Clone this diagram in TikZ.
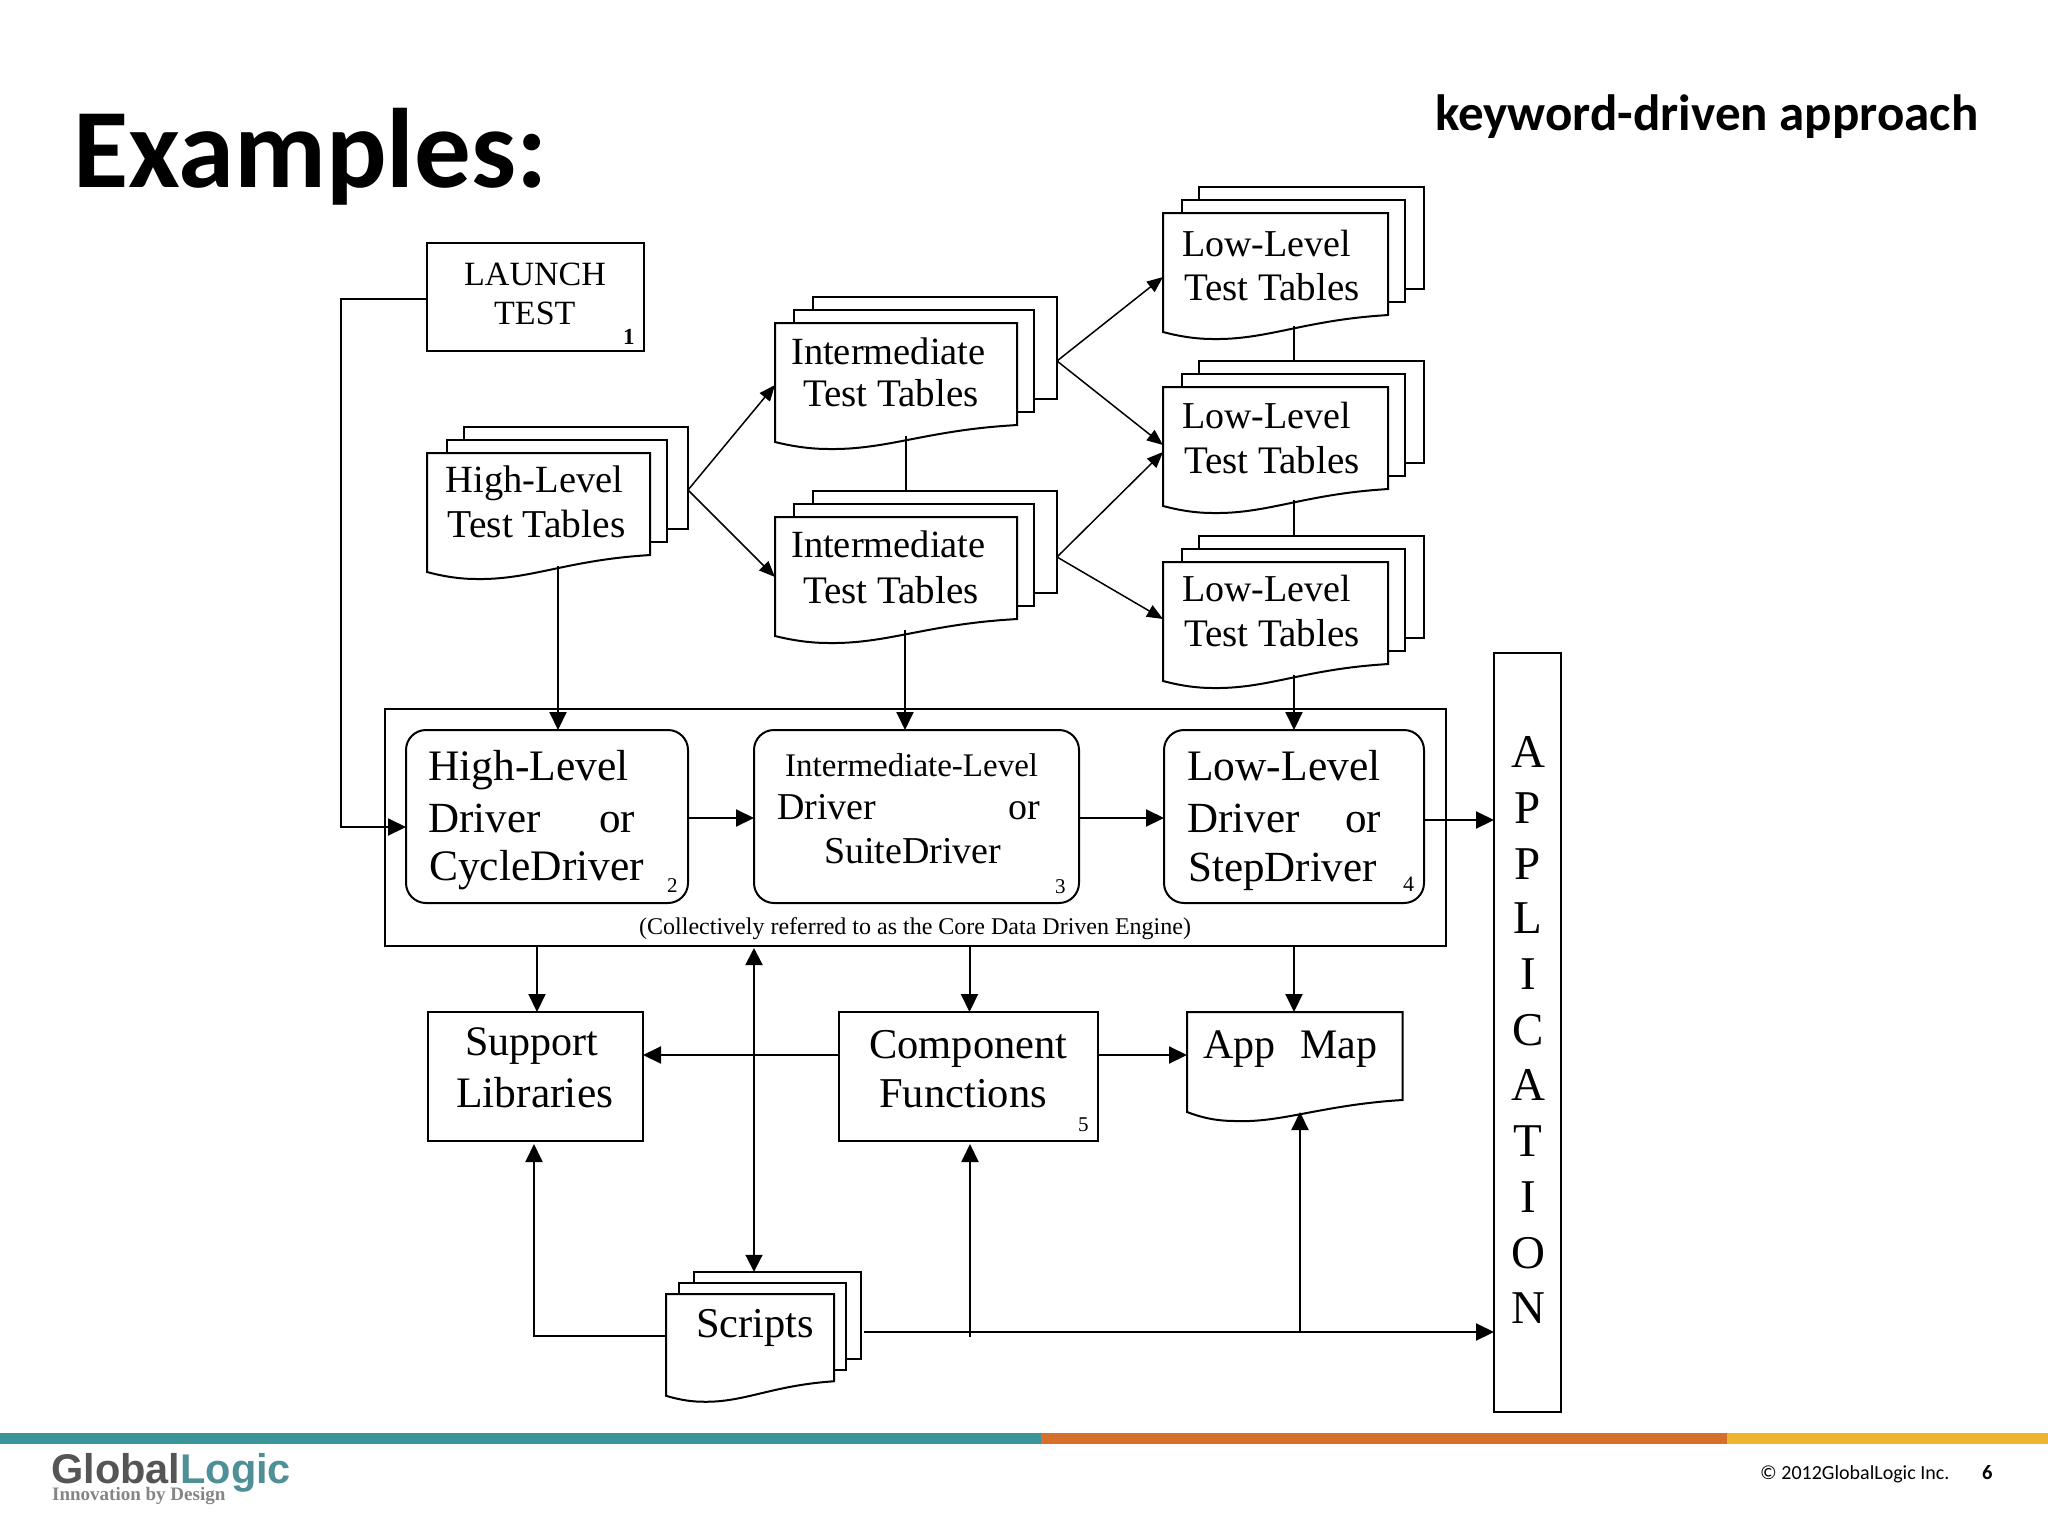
\documentclass[tikz,border=0pt]{standalone}
\usepackage{fontspec}
\setmainfont{Liberation Serif}
\newfontfamily\carl{Carlito}
\newfontfamily\lsans{Liberation Sans}
\usetikzlibrary{arrows.meta,calc}
\definecolor{teal1}{HTML}{3A9599}
\definecolor{orange1}{HTML}{D66F2B}
\definecolor{yellow1}{HTML}{EDB52F}
\definecolor{logodark}{HTML}{555555}
\definecolor{logoteal}{HTML}{4E8F98}
\definecolor{logogrey}{HTML}{858585}
\tikzset{
  x=1pt,y=-1pt,
  boxline/.style={line width=2pt,draw=black},
  sheet/.style={line width=2pt,draw=black,line join=miter},
  conn/.style={line width=2pt},
  arr/.style={line width=2pt,-{Triangle[length=18pt,width=17pt]}},
  darr/.style={line width=2pt,{Triangle[length=17pt,width=17pt]}-{Triangle[length=17pt,width=17pt]}},
  diag/.style={line width=1.5pt,-{Triangle[length=16pt,width=13pt]}},
}
% invisible or drawn box by corner coordinates
\newcommand\bx[6]{\node[#6,inner sep=0pt,outer sep=0pt,minimum width={((#4)-(#2))*1pt},minimum height={((#5)-(#3))*1pt}] (#1) at ({((#2)+(#4))/2},{((#3)+(#5))/2}) {};}
% text by left end of its baseline
\newcommand\tx[5]{\node[anchor=base west,inner sep=0pt,font=\fontsize{#4}{#4}\selectfont] (#1) at (#2,#3) {#5};}
% stack of three wavy-bottomed sheets: name, L, T, R, midL, midR, backL, backR, height factor
\newcommand\docstack[9]{%
  \pgfmathsetmacro\stW{#4-#2}%
  \pgfmathsetmacro\stH{#9}%
  \draw[sheet] (#6,{#3+76*\stH}) -- (#8,{#3+76*\stH}) -- (#8,{#3-26*\stH}) -- (#7,{#3-26*\stH}) -- (#7,{#3-13*\stH});
  \draw[sheet] (#4,{#3+89*\stH}) -- (#6,{#3+89*\stH}) -- (#6,{#3-13*\stH}) -- (#5,{#3-13*\stH}) -- (#5,#3);
  \draw[sheet] (#2,#3) -- (#4,#3) -- (#4,{#3+102*\stH}) -- ({#4-.03*\stW},{#3+102.5*\stH})
     .. controls ({#2+.62*\stW},{#3+108*\stH}) and ({#2+.46*\stW},{#3+127*\stH}) .. ({#2+.22*\stW},{#3+126*\stH})
     .. controls ({#2+.13*\stW},{#3+126*\stH}) and ({#2+.05*\stW},{#3+122*\stH}) .. (#2,{#3+119*\stH}) -- cycle;
  \bx{#1}{#2}{#3}{#4}{#3+113*\stH}{}
  \bx{#1-back}{#7}{#3-26*\stH}{#8}{#3+76*\stH}{}
}
\begin{document}
\begin{tikzpicture}
\useasboundingbox (0,0) rectangle (2048,1536);
\fill[white] (0,0) rectangle (2048,1536);

% header
\node[anchor=base west,inner sep=0pt,font=\carl\bfseries\fontsize{113}{113}\selectfont] (title) at (73,187) {Examples:};
\node[anchor=base west,inner sep=0pt,font=\carl\bfseries\fontsize{51}{51}\selectfont] (subtitle) at (1435,131) {keyword-driven approach};

% test tables
\docstack{hi}{427}{453}{650}{447}{667}{464}{688}{1}
\docstack{upint}{775}{323}{1017}{794}{1034}{813}{1057}{1}
\docstack{loint}{775}{517}{1017}{794}{1034}{813}{1057}{1}
\docstack{lowa}{1163}{213}{1388}{1182}{1405}{1199}{1424}{1}
\docstack{lowb}{1163}{387}{1388}{1182}{1405}{1199}{1424}{1}
\docstack{lowc}{1163}{562}{1388}{1182}{1405}{1199}{1424}{1}
\docstack{scr}{666}{1294}{834}{679}{846}{694}{861}{.855}

\tx{t1}{445.5}{492}{38.5}{High-Level}
\tx{t2}{447.5}{537}{39.5}{Test Tables}
\tx{t3}{791}{364}{38.5}{Intermediate}
\tx{t4}{803}{406}{39}{Test Tables}
\tx{t5}{791}{557}{38.5}{Intermediate}
\tx{t6}{803}{603}{39}{Test Tables}
\tx{t7}{1182}{256}{38}{Low-Level}
\tx{t8}{1184}{300}{39}{Test Tables}
\tx{t9}{1182}{428}{38}{Low-Level}
\tx{t10}{1184}{473}{39}{Test Tables}
\tx{t11}{1182}{601}{38}{Low-Level}
\tx{t12}{1184}{646}{39}{Test Tables}
\tx{t13}{696}{1337}{42.5}{Scripts}

% launch
\bx{launch}{427}{243}{644}{351}{boxline,draw}
\tx{t14}{464}{285}{34}{LAUNCH}
\tx{t15}{494}{324}{34}{TEST}
\tx{n1}{623}{344}{23}{\bfseries 1}

% engine
\bx{engine}{385}{709}{1446}{946}{boxline,draw}
\bx{hdrv}{406}{730}{688}{903}{boxline,draw,rounded corners=20pt}
\bx{idrv}{754}{730}{1079}{903}{boxline,draw,rounded corners=20pt}
\bx{ldrv}{1164}{730}{1424}{903}{boxline,draw,rounded corners=20pt}
\tx{t16}{428}{780}{43.5}{High-Level}
\tx{t17}{428}{832}{43}{Driver}
\tx{t18}{599}{832}{43}{or}
\tx{t19}{429}{880}{43.5}{CycleDriver}
\tx{n2}{667}{892}{21}{2}
\tx{t20}{785}{776}{33}{Intermediate-Level}
\tx{t21}{777}{819}{38}{Driver}
\tx{t22}{1008}{819}{38}{or}
\tx{t23}{824}{863}{38}{SuiteDriver}
\tx{n3}{1055}{893}{21}{3}
\tx{t24}{1187}{780}{43.5}{Low-Level}
\tx{t25}{1187}{832}{43}{Driver}
\tx{t26}{1345}{832}{43}{or}
\tx{t27}{1188}{881}{43}{StepDriver}
\tx{n4}{1403}{891}{22}{4}
\tx{cap}{639}{934}{24}{(Collectively referred to as the Core Data Driven Engine)}

% lower boxes
\bx{supp}{427.5}{1012}{643}{1141}{boxline,draw}
\bx{comp}{839}{1012}{1097.5}{1141}{boxline,draw}
\tx{t28}{465}{1055}{42}{Support}
\tx{t29}{456}{1107}{43.5}{Libraries}
\tx{t30}{869}{1058}{42.5}{Component}
\tx{t31}{879}{1107}{42.5}{Functions}
\tx{n5}{1078}{1131}{21}{5}
\draw[sheet] (1187,1012) -- (1402.5,1012) -- (1402.5,1100) -- (1395,1100.5)
   .. controls (1320,1106) and (1280,1123) .. (1235,1121)
   .. controls (1215,1121) and (1200,1117) .. (1187,1112) -- cycle;
\bx{amap}{1187}{1012}{1402.5}{1112}{}
\node[anchor=base west,inner sep=0pt,font=\fontsize{42}{42}\selectfont] (t32) at (1203,1058) {App\hspace{25pt}Map};

% application
\bx{appl}{1494}{653}{1560.5}{1412}{boxline,draw}
\foreach \c/\yy [count=\n] in {A/767,P/823,P/879,L/933,I/989,C/1045,A/1100,T/1156,I/1212,O/1268,N/1323}
  \node[anchor=base,inner sep=0pt,font=\fontsize{47}{47}\selectfont] (ltr\n) at (1528,\yy) {\c};

% connectors between tables
\draw[diag] (hi-back.east |- 0,490) -- (upint.west |- 0,385);
\draw[diag] (hi-back.east |- 0,490) -- (loint.west |- 0,577);
\draw[diag] (upint-back.east |- 0,361) -- (lowa.west |- 0,277);
\draw[diag] (upint-back.east |- 0,361) -- (lowb.west |- 0,445);
\draw[diag] (loint-back.east |- 0,557) -- (lowb.west |- 0,452);
\draw[diag] (loint-back.east |- 0,557) -- (lowc.west |- 0,619);
\draw[conn] (upint.south -| 906,0) -- (loint-back.north -| 906,0);
\draw[conn] (lowa.south -| 1294,0) -- (lowb-back.north -| 1294,0);
\draw[conn] (lowb.south -| 1294,0) -- (lowc-back.north -| 1294,0);

% into and within the engine
\draw[arr] (hi.south -| 558,0) -- (hdrv.north -| 558,0);
\draw[arr] (loint.south -| 905,0) -- (idrv.north -| 905,0);
\draw[arr] (lowc.south -| 1294,0) -- (ldrv.north -| 1294,0);
\draw[arr] (launch.west |- 0,299) -- (341,299) -- (341,827) -- (hdrv.west |- 0,827);
\draw[arr] (hdrv.east |- 0,818) -- (idrv.west |- 0,818);
\draw[arr] (idrv.east |- 0,818) -- (ldrv.west |- 0,818);
\draw[arr] (ldrv.east |- 0,820) -- (appl.west |- 0,820);

% below the engine
\draw[arr] (engine.south -| 537,0) -- (supp.north -| 537,0);
\draw[arr] (engine.south -| 969.5,0) -- (comp.north -| 969.5,0);
\draw[arr] (engine.south -| 1294,0) -- (amap.north -| 1294,0);
\draw[arr] (comp.west |- 0,1055) -- (supp.east |- 0,1055);
\draw[arr] (comp.east |- 0,1055) -- (amap.west |- 0,1055);
\draw[darr,shorten <=2pt] (engine.south -| 754,0) -- (scr-back.north -| 754,0);

% from scripts
\draw[arr] (scr.west |- 0,1336) -- (534,1336) -- (534,1144);
\draw[arr] (864,1332) -- (appl.west |- 0,1332);
\draw[arr] (970,1337) -- (970,1144);
\draw[arr] (1300,1332) -- (amap.south -| 1300,0);

% footer
\fill[teal1] (0,1433) rectangle (1041,1444);
\fill[orange1] (1041,1433) rectangle (1727,1444);
\fill[yellow1] (1727,1433) rectangle (2048,1444);
\node[anchor=base west,inner sep=0pt,font=\lsans\bfseries\fontsize{41.5}{41.5}\selectfont] (logo) at (51,1483) {\textcolor{logodark}{Global}\textcolor{logoteal}{Logic}};
\node[anchor=base west,inner sep=0pt,font=\bfseries\fontsize{19}{19}\selectfont,text=logogrey] (tag) at (52,1500) {Innovation by Design};
\node[anchor=base west,inner sep=0pt,font=\carl\fontsize{20}{20}\selectfont] (copy) at (1760,1479) {© 2012GlobalLogic Inc.};
\node[anchor=base west,inner sep=0pt,font=\carl\bfseries\fontsize{20.5}{20.5}\selectfont] (pg) at (1982,1479) {6};
\end{tikzpicture}
\end{document}
